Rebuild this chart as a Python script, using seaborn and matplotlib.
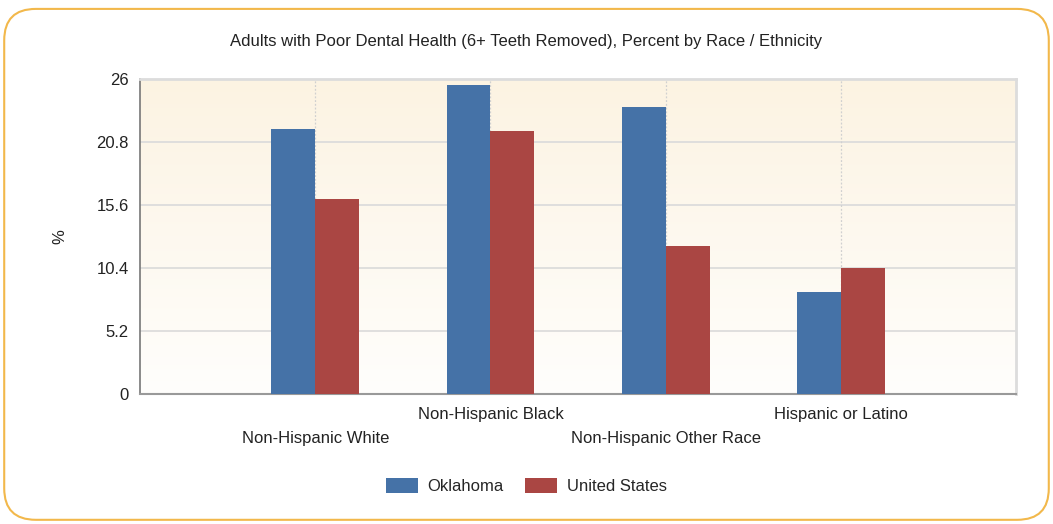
import numpy as np
import pandas as pd
import matplotlib
matplotlib.use("Agg")
import matplotlib.pyplot as plt
import seaborn as sns
from matplotlib.patches import FancyBboxPatch
from matplotlib.colors import LinearSegmentedColormap

categories = ["Non-Hispanic White", "Non-Hispanic Black", "Non-Hispanic Other Race", "Hispanic or Latino"]
oklahoma = [21.9, 25.5, 23.7, 8.4]
united_states = [16.1, 21.7, 12.2, 10.4]
series_names = ["Oklahoma", "United States"]
y_ticks = [0, 5.2, 10.4, 15.6, 20.8, 26]
y_tick_labels = ["0", "5.2", "10.4", "15.6", "20.8", "26"]
title = "Adults with Poor Dental Health (6+ Teeth Removed), Percent by Race / Ethnicity"

sns.set_style("white")
plt.rcParams["font.family"] = ["Liberation Sans", "DejaVu Sans"]

df = pd.DataFrame({
    "Category": categories * 2,
    "Value": oklahoma + united_states,
    "Series": [series_names[0]] * 4 + [series_names[1]] * 4,
})

fig = plt.figure(figsize=(10.53, 5.24), dpi=100)
border = FancyBboxPatch((0.004, 0.008), 0.992, 0.975, boxstyle="round,pad=0,rounding_size=0.03",
                        transform=fig.transFigure, facecolor="none", edgecolor="#F2B84B",
                        linewidth=1.5, mutation_aspect=2.0, zorder=-5)
fig.patches.append(border)

ax = fig.add_axes([0.133, 0.248, 0.832, 0.601])
ax.set_facecolor("none")

grad = np.linspace(0, 1, 256).reshape(-1, 1)
cmap = LinearSegmentedColormap.from_list("bg", ["#FCF3E2", "#FFFEFC"])
ax.imshow(grad, extent=[0, 1, 0, 1], transform=ax.transAxes, aspect="auto", cmap=cmap, zorder=0)

palette = {"Oklahoma": "#4572A7", "United States": "#AA4643"}
sns.barplot(data=df, x="Category", y="Value", hue="Series", palette=palette, width=0.5,
            saturation=1, ax=ax, zorder=3, edgecolor="none", order=categories)

ax.set_xlim(-1, 4)
ax.set_ylim(0, 26)
ax.set_yticks(y_ticks)
ax.set_yticklabels(y_tick_labels)
ax.set_xticks(range(len(categories)))
ax.set_xticklabels(categories)
ax.set_xticks([-1, 4], minor=True)
ax.tick_params(axis="x", which="both", direction="out", length=5, color="#555555", width=1)
ax.tick_params(axis="y", direction="out", length=5, color="#555555", width=1, pad=3)
ax.tick_params(labelsize=12, labelcolor="#222222")
for i, t in enumerate(ax.xaxis.get_major_ticks()):
    t.set_pad(4 if i % 2 == 1 else 21.3)

for y in y_ticks[1:-1]:
    ax.axhline(y, color="#DADADA", linewidth=1.2, zorder=1)
for x in range(len(categories)):
    ax.axvline(x, color="#D0D0D0", linewidth=0.9, linestyle=(0, (1.5, 1.5)), zorder=1)

ax.set_xlabel("")
ax.set_ylabel("%", fontsize=12, color="#222222", labelpad=21)

for side in ["top", "right"]:
    ax.spines[side].set_visible(True)
    ax.spines[side].set_color("#DCDCDC")
    ax.spines[side].set_linewidth(2)
ax.spines["left"].set_color("#777777")
ax.spines["bottom"].set_color("#999999")
ax.spines["left"].set_linewidth(1.2)
ax.spines["bottom"].set_linewidth(1.5)

fig.suptitle(title, y=0.935, fontsize=12, color="#222222")

handles, labels = ax.get_legend_handles_labels()
ax.get_legend().remove()
fig.legend(handles, labels, loc="center", bbox_to_anchor=(0.5, 1 - 486 / 524),
           ncol=2, frameon=False, fontsize=12, handlelength=1.9, handleheight=1.0,
           columnspacing=1.3, handletextpad=0.6)

fig.savefig("out.png", dpi=100)
